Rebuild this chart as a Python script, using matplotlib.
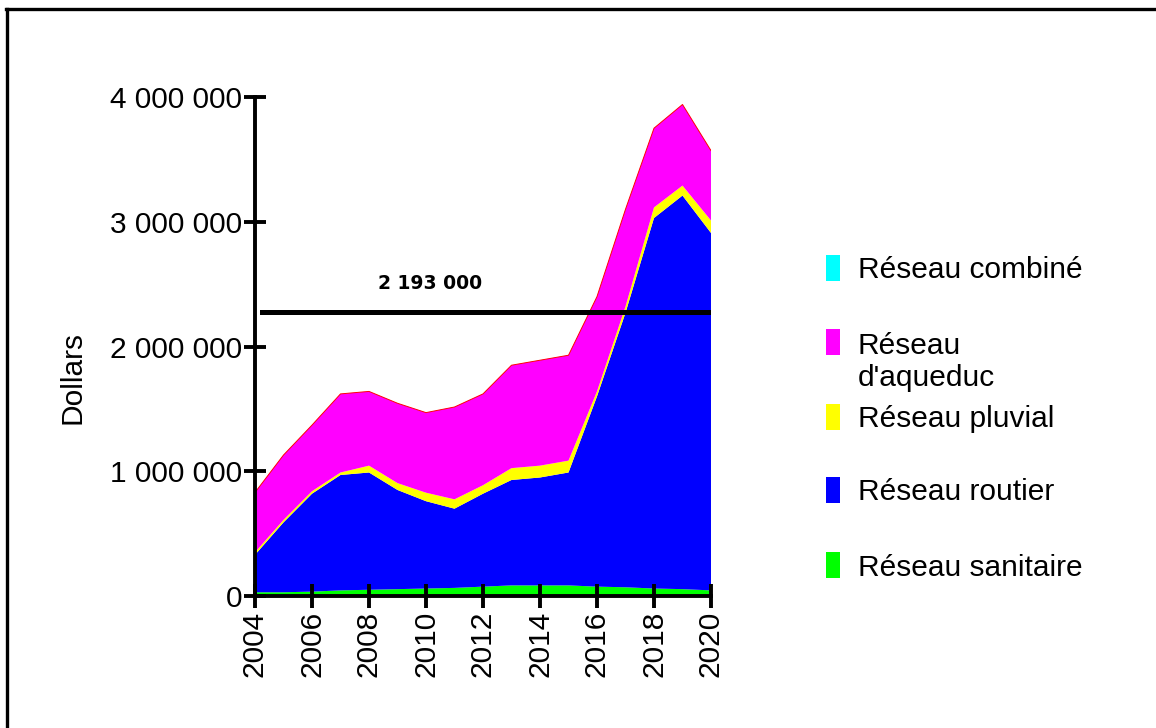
import matplotlib
matplotlib.use("Agg")
import matplotlib.pyplot as plt
from matplotlib.patches import Rectangle
from matplotlib.lines import Line2D
from matplotlib.ticker import FuncFormatter

plt.rcParams['font.family'] = ['Liberation Sans', 'DejaVu Sans']

# ---- data ----
years = list(range(2004, 2021))
sanitaire = [30, 30, 35, 45, 50, 55, 60, 65, 75, 85, 85, 85, 75, 70, 60, 55, 45]
routier = [300, 560, 785, 925, 940, 795, 700, 635, 745, 845, 865, 905, 1525, 2200, 2970, 3155, 2865]
pluvial = [20, 20, 20, 20, 55, 55, 68, 75, 68, 95, 95, 95, 40, 50, 85, 80, 100]
aqueduc = [480, 520, 530, 630, 595, 640, 642, 740, 732, 825, 845, 845, 760, 780, 635, 650, 560]
combine = [0] * 17
scale = 1000  # values above are in thousands of dollars

series_labels = ["Réseau sanitaire", "Réseau routier", "Réseau pluvial", "Réseau d'aqueduc", "Réseau combiné"]
series_colors = ["#00FF00", "#0000FF", "#FFFF00", "#FF00FF", "#00FFFF"]
legend_labels = ["Réseau combiné", "Réseau\nd'aqueduc", "Réseau pluvial", "Réseau routier", "Réseau sanitaire"]
legend_colors = ["#00FFFF", "#FF00FF", "#FFFF00", "#0000FF", "#00FF00"]

avg_label = "2 193 000"
avg_line_level = 2_280_000
y_ticks = [0, 1_000_000, 2_000_000, 3_000_000, 4_000_000]
x_ticks = list(range(2004, 2021, 2))

W, H = 1156, 728
fig = plt.figure(figsize=(W / 100, H / 100), dpi=100)
fig.patch.set_facecolor("white")

ax = fig.add_axes([255 / W, 1 - 596 / H, (711 - 255) / W, (596 - 97) / H])
vals = [[v * scale for v in s] for s in (sanitaire, routier, pluvial, aqueduc, combine)]
ax.stackplot(years, *vals, colors=series_colors, labels=series_labels, linewidth=0)
total = [sum(t) for t in zip(*vals)]
ax.plot(years, total, color="#FF0000", lw=0.7, zorder=3)

ax.set_xlim(2004, 2020)
ax.set_ylim(0, 4_000_000)
ax.set_xticks(x_ticks)
ax.set_xticklabels([str(x) for x in x_ticks], rotation=90, fontsize=21.5)
ax.set_yticks(y_ticks)
ax.yaxis.set_major_formatter(FuncFormatter(lambda v, p: f"{int(v):,}".replace(",", " ")))
ax.tick_params(axis="y", labelsize=21.5, direction="inout", length=16, width=2.8, pad=1)
ax.tick_params(axis="x", direction="inout", length=17, width=2.8, pad=2)
for s in ("top", "right"):
    ax.spines[s].set_visible(False)
for s in ("left", "bottom"):
    ax.spines[s].set_linewidth(2.8)
    ax.spines[s].set_zorder(5)
ax.set_facecolor("white")

# average line and its label
ax.axhline(avg_line_level, xmin=0.015, xmax=1.0, color="black", lw=3.6, zorder=4)
ax.annotate(avg_label, xy=(0.384, avg_line_level), xycoords=("axes fraction", "data"),
            xytext=(0, 20), textcoords="offset points", ha="center", va="center",
            fontsize=13.5, fontweight="bold", family="DejaVu Sans")

ax.set_ylabel("Dollars", fontsize=21.5)
ax.yaxis.set_label_coords(-0.401, 0.437)
ax.yaxis.label.set_verticalalignment("center")

# manual legend
leg_centers = [268, 342, 417, 490, 565]
text_y = [270, 362, 419, 492, 568]
for lab, col, cy, ty in zip(legend_labels, legend_colors, leg_centers, text_y):
    fig.add_artist(Rectangle((826 / W, 1 - (cy + 13) / H), 14 / W, 26 / H,
                             transform=fig.transFigure, facecolor=col, edgecolor="none"))
    fig.text(858 / W, 1 - ty / H, lab, fontsize=21.5, ha="left", va="center", linespacing=1.2)

# outer frame (top and left edges)
fig.add_artist(Line2D([7 / W, 7 / W], [0, 1 - 9 / H], transform=fig.transFigure, color="black", lw=2.4))
fig.add_artist(Line2D([6 / W, 1.0], [1 - 9 / H, 1 - 9 / H], transform=fig.transFigure, color="black", lw=2.4))

fig.savefig("out.png", dpi=100, facecolor="white")
